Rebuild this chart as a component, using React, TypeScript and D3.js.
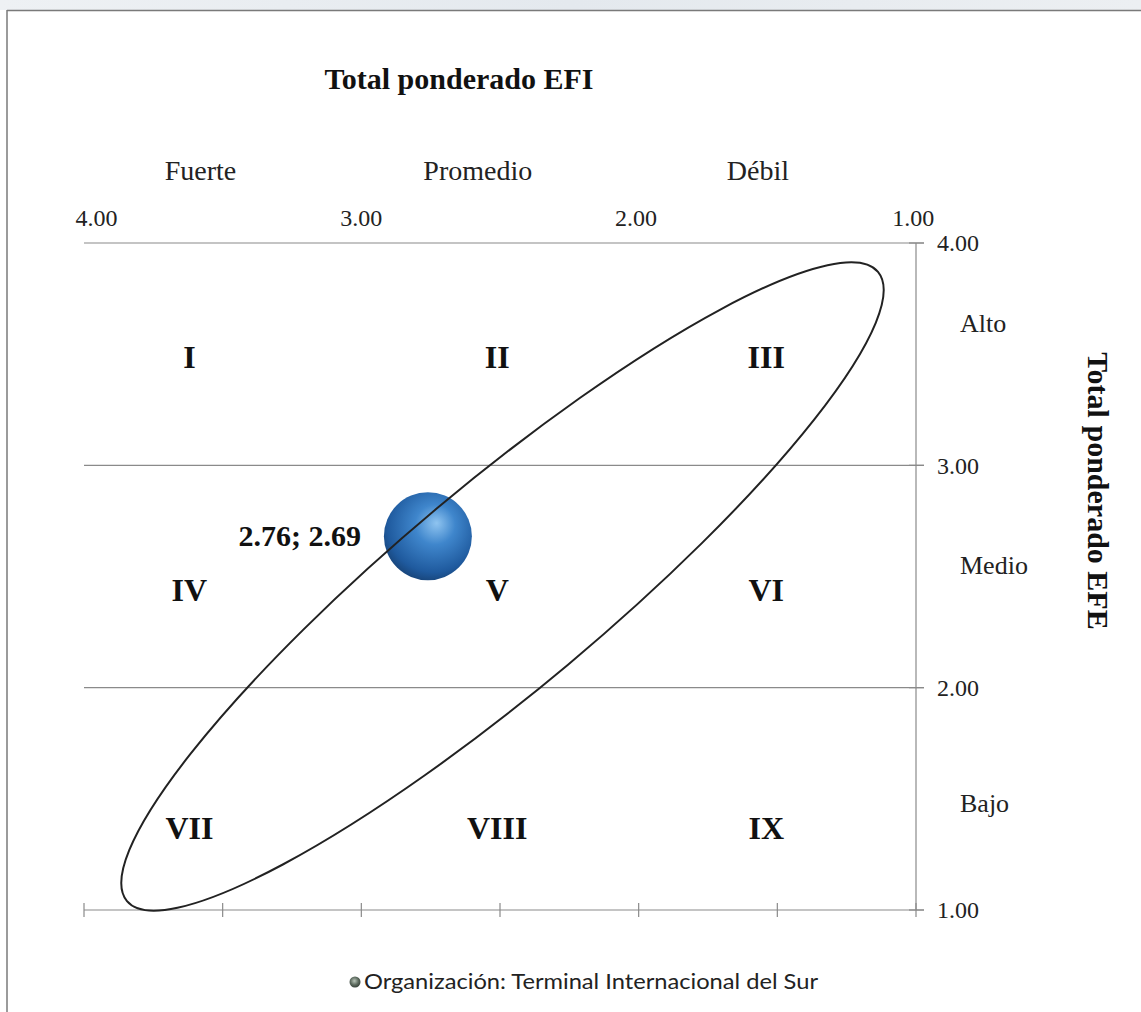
import React from "react";
import * as d3 from "d3";

// ---- data ----
const point = { efi: 2.76, efe: 2.69, label: "2.76; 2.69" };
const xTicks = [4, 3, 2, 1];
const xTickLabelPos = [3.955, 3.0, 2.01, 1.01];
const yTicks = [4, 3, 2, 1];
const xMinorTicks = [4, 3.5, 3, 2.5, 2, 1.5, 1];
const efiLevels = ["Fuerte", "Promedio", "Débil"];
const efiLevelPos = [3.58, 2.58, 1.57];
const efeLevels = ["Alto", "Medio", "Bajo"];
const efeLevelPos = [3.64, 2.55, 1.48];
const quadrantLabels = [
  ["I", "II", "III"],
  ["IV", "V", "VI"],
  ["VII", "VIII", "IX"],
];
const quadrantColPos = [3.62, 2.51, 1.54];
const quadrantRowPos = [3.49, 2.44, 1.37];
// ellipse (data units): two tips of the major axis, semi-minor in px
const ellipseTipA = { x: 3.845, y: 1.04 };
const ellipseTipB = { x: 1.137, y: 3.87 };
const ellipseSemiMinorPx = 102;
const xTitle = "Total ponderado EFI";
const yTitle = "Total ponderado EFE";
const legendLabel = "Organización: Terminal Internacional del Sur";

const W = 1141;
const H = 1012;
const serif = "'Liberation Serif', 'Times New Roman', serif";

export default function App() {
  const x = d3.scaleLinear().domain([4, 1]).range([84, 916]);
  const y = d3.scaleLinear().domain([1, 4]).range([910, 243]);
  const fmt = d3.format(".2f");
  const gridColor = "#8a8a8a";

  const ax = x(ellipseTipA.x), ay = y(ellipseTipA.y);
  const bx = x(ellipseTipB.x), by = y(ellipseTipB.y);
  const ecx = (ax + bx) / 2, ecy = (ay + by) / 2;
  const erx = Math.hypot(bx - ax, by - ay) / 2;
  const eang = (Math.atan2(by - ay, bx - ax) * 180) / Math.PI;

  const px = x(point.efi), py = y(point.efe);

  return (
    <svg
      width={W}
      height={H}
      style={{ position: "absolute", left: 0, top: 0, background: "#fff" }}
    >
      <defs>
        <radialGradient id="ball" cx="0.55" cy="0.4" r="0.65" fx="0.6" fy="0.35">
          <stop offset="0" stopColor="#8fc4f0" />
          <stop offset="0.35" stopColor="#3f86cc" />
          <stop offset="0.8" stopColor="#1f5a9e" />
          <stop offset="1" stopColor="#163f70" />
        </radialGradient>
        <radialGradient id="mini" cx="0.45" cy="0.4" r="0.6">
          <stop offset="0" stopColor="#b8c4b8" />
          <stop offset="0.6" stopColor="#5d6b5f" />
          <stop offset="1" stopColor="#37423a" />
        </radialGradient>
        <linearGradient id="topfade" x1="0" x2="1" y1="0" y2="0">
          <stop offset="0" stopColor="#eef1f4" />
          <stop offset="0.5" stopColor="#e4e9ee" />
          <stop offset="1" stopColor="#eceff2" />
        </linearGradient>
      </defs>

      {/* page frame */}
      <rect x={0} y={0} width={W} height={10} fill="url(#topfade)" />
      <line x1={7} x2={W} y1={10.5} y2={10.5} stroke="#7a7a7a" strokeWidth={1.5} />
      <line x1={7} x2={7} y1={10} y2={H} stroke="#7a7a7a" strokeWidth={1.5} />

      {/* gridlines */}
      {yTicks.filter((t) => t > 1).map((t) => (
        <line key={"g" + t} x1={x(4)} x2={x(1) + 8} y1={y(t)} y2={y(t)} stroke={gridColor} strokeWidth={1.2} />
      ))}
      {/* right axis */}
      <line x1={x(1)} x2={x(1)} y1={y(4)} y2={y(1)} stroke={gridColor} strokeWidth={1.2} />
      {yTicks.map((t) => (
        <line key={"yt" + t} x1={x(1) - 7} x2={x(1) + 8} y1={y(t)} y2={y(t)} stroke={gridColor} strokeWidth={1.2} />
      ))}
      {yTicks.map((t) => (
        <text key={"yl" + t} x={937} y={y(t)} dy="0.35em" fontFamily={serif} fontSize={24} fill="#222">
          {fmt(t)}
        </text>
      ))}
      {/* bottom axis */}
      <line x1={x(4)} x2={x(1) + 8} y1={y(1)} y2={y(1)} stroke={gridColor} strokeWidth={1.2} />
      {xMinorTicks.map((t) => (
        <line key={"xt" + t} x1={x(t)} x2={x(t)} y1={y(1) - 7} y2={y(1) + 7} stroke={gridColor} strokeWidth={1.2} />
      ))}

      {/* top tick labels */}
      {xTicks.map((t, i) => (
        <text key={"xl" + t} x={x(xTickLabelPos[i])} y={218} dy="0.35em" textAnchor="middle" fontFamily={serif} fontSize={24} fill="#222">
          {fmt(t)}
        </text>
      ))}

      {/* titles */}
      <text x={459} y={78} dy="0.35em" textAnchor="middle" fontFamily={serif} fontWeight="bold" fontSize={30} fill="#111">
        {xTitle}
      </text>
      <text
        transform={`translate(1098,491) rotate(90)`}
        dy="0.35em"
        textAnchor="middle"
        fontFamily={serif}
        fontWeight="bold"
        fontSize={30}
        fill="#111"
      >
        {yTitle}
      </text>

      {/* level labels */}
      {efiLevels.map((l, i) => (
        <text key={l} x={x(efiLevelPos[i])} y={170} dy="0.35em" textAnchor="middle" fontFamily={serif} fontSize={28} fill="#222">
          {l}
        </text>
      ))}
      {efeLevels.map((l, i) => (
        <text key={l} x={960} y={y(efeLevelPos[i])} dy="0.35em" fontFamily={serif} fontSize={26} fill="#222">
          {l}
        </text>
      ))}

      {/* quadrant numerals */}
      {quadrantLabels.map((row, r) =>
        row.map((lab, c) => (
          <text
            key={lab}
            x={x(quadrantColPos[c])}
            y={y(quadrantRowPos[r])}
            dy="0.35em"
            textAnchor="middle"
            fontFamily={serif}
            fontWeight="bold"
            fontSize={32}
            fill="#111"
          >
            {lab}
          </text>
        ))
      )}

      {/* data point */}
      <circle cx={px} cy={py + 2} r={44} fill="url(#ball)" />
      <text x={px - 67} y={py + 1} dy="0.35em" textAnchor="end" fontFamily={serif} fontWeight="bold" fontSize={30} fill="#111">
        {point.label}
      </text>

      {/* ellipse */}
      <ellipse
        cx={ecx}
        cy={ecy}
        rx={erx}
        ry={ellipseSemiMinorPx}
        transform={`rotate(${eang} ${ecx} ${ecy})`}
        fill="none"
        stroke="#222"
        strokeWidth={2}
      />

      {/* legend */}
      <circle cx={355} cy={982} r={5.5} fill="url(#mini)" />
      <text x={364} y={982} dy="0.35em" fontFamily="Lato, 'Open Sans', sans-serif" fontSize={21} fill="#222" textLength={454} lengthAdjust="spacingAndGlyphs">
        {legendLabel}
      </text>
    </svg>
  );
}
